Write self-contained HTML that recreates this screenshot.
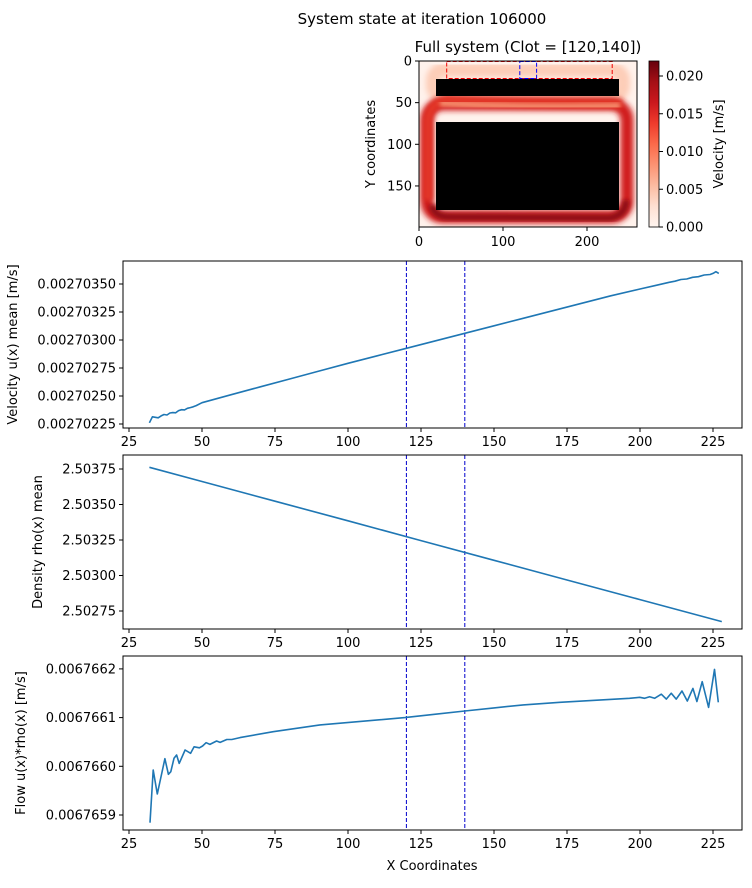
<!DOCTYPE html>
<html><head><meta charset="utf-8">
<style>
body{margin:0;background:#fff;width:752px;height:883px;overflow:hidden;font-family:"Liberation Sans","DejaVu Sans",sans-serif;}
svg text{font-family:"DejaVu Sans","Liberation Sans",sans-serif;fill:#000;}
</style></head>
<body>
<svg id="fig" width="752" height="883" viewBox="0 0 752 883" xmlns="http://www.w3.org/2000/svg">
<defs>
<filter id="blur" x="-20%" y="-20%" width="140%" height="140%"><feGaussianBlur stdDeviation="3"/></filter>
<filter id="blur2" x="-20%" y="-20%" width="140%" height="140%"><feGaussianBlur stdDeviation="2"/></filter>
<linearGradient id="reds" x1="0" y1="1" x2="0" y2="0">
<stop offset="0" stop-color="#fff5f0"/><stop offset="0.125" stop-color="#fee0d2"/><stop offset="0.25" stop-color="#fcbba1"/><stop offset="0.375" stop-color="#fc9272"/><stop offset="0.5" stop-color="#fb6a4a"/><stop offset="0.625" stop-color="#ef3b2c"/><stop offset="0.75" stop-color="#cb181d"/><stop offset="0.875" stop-color="#a50f15"/><stop offset="1" stop-color="#67000d"/>
</linearGradient>
<clipPath id="hmclip"><rect x="419" y="61" width="218" height="166"/></clipPath>
</defs>
<text x="422" y="24" font-size="15" text-anchor="middle">System state at iteration 106000</text>
<g id="heat">
<text x="528" y="52" font-size="15" text-anchor="middle">Full system (Clot = [120,140])</text>
<g clip-path="url(#hmclip)">
<rect x="419" y="61" width="218" height="166" fill="#fff2ec"/>
<rect x="433" y="70" width="190" height="26" rx="10" fill="none" stroke="#fdcdb8" stroke-width="14" filter="url(#blur)"/>
<rect x="427" y="104" width="200" height="113" rx="16" fill="none" stroke="#d01d1a" stroke-width="13" filter="url(#blur)"/>
<path d="M428 200 L428 120 Q430 102 448 100 Q520 104 622 104" fill="none" stroke="#e23425" stroke-width="9" filter="url(#blur2)"/>
<path d="M432 205 Q434 217 450 217 L610 218 Q626 215 626 200" fill="none" stroke="#8f0a12" stroke-width="7" filter="url(#blur2)"/>
<path d="M440 103 Q520 108 620 106" fill="none" stroke="#f58a6a" stroke-width="7" filter="url(#blur2)"/>
<rect x="436" y="79" width="183" height="17" fill="#000"/>
<rect x="436" y="122" width="183" height="88" fill="#000"/>
<rect x="446.7" y="61.5" width="165.5" height="17" fill="none" stroke="#e00" stroke-width="1" stroke-dasharray="4,2"/>
<rect x="519.8" y="61.5" width="16.8" height="17" fill="none" stroke="#00f" stroke-width="1" stroke-dasharray="4,2"/>
</g>
<rect x="419" y="61" width="218" height="166" fill="none" stroke="#000" stroke-width="1"/>
<g id="hmticks"></g>
<text transform="translate(375,144) rotate(-90)" font-size="13" text-anchor="middle">Y coordinates</text>
<rect x="649" y="61" width="10" height="166" fill="url(#reds)" stroke="#000" stroke-width="0.8"/>
<g id="cbticks"></g>
<text transform="translate(723,144) rotate(-90)" font-size="13" text-anchor="middle">Velocity [m/s]</text>
</g>
<g id="plots"></g>
<text x="432" y="870" font-size="13" text-anchor="middle">X Coordinates</text>
</svg>
<script>
// ---- data ----
const xTicks = [25, 50, 75, 100, 125, 150, 175, 200, 225];
const clotBounds = [120, 140];
const velX = [32,33,34,35,36,37,38,39,40,41,42,43,44,45,46,47,48,50,55,60,70,80,90,100,110,120,130,140,150,160,170,180,190,200,205,210,212,214,216,218,220,222,224,225,226,227];
const velY = [0.002702261,0.002702314,0.002702310,0.002702305,0.002702322,0.002702335,0.002702330,0.002702348,0.002702352,0.002702350,0.002702370,0.002702378,0.002702376,0.002702390,0.002702396,0.002702404,0.002702414,0.002702440,0.002702476,0.002702512,0.002702582,0.002702652,0.002702722,0.002702792,0.002702859,0.002702926,0.002702993,0.002703060,0.002703127,0.002703194,0.002703261,0.002703328,0.002703395,0.002703455,0.002703485,0.002703515,0.002703525,0.002703540,0.002703545,0.002703560,0.002703565,0.002703580,0.002703585,0.002703595,0.002703610,0.002703595];
const velTicks = ["0.00270225","0.00270250","0.00270275","0.00270300","0.00270325","0.00270350"];
const denX = [32,50,75,100,125,150,175,200,228];
const denY = [2.503762,2.503662,2.503523,2.503385,2.503246,2.503107,2.502968,2.502830,2.502675];
const denTicks = ["2.50275","2.50300","2.50325","2.50350","2.50375"];
const flowX = [32.2,33.3,34.7,37.3,38.5,39.3,40.4,41.3,42.2,44.2,46.1,47.3,49.1,50.2,51.4,52.7,55,56.2,58.5,60.2,63,74.4,90.4,119.5,130,140,150,160,172.6,196.4,199.9,201.6,203.3,205,207.3,209,210.7,212.4,214.4,216.2,218.1,219.5,221.3,223.5,225.5,226.8];
const flowY = [0.0067658842,0.0067659924,0.0067659431,0.0067660156,0.0067659836,0.0067659889,0.0067660164,0.0067660232,0.0067660060,0.0067660335,0.0067660267,0.0067660400,0.0067660380,0.0067660417,0.0067660485,0.0067660450,0.0067660520,0.0067660490,0.0067660550,0.0067660550,0.0067660590,0.0067660710,0.0067660850,0.0067661000,0.0067661070,0.0067661136,0.0067661200,0.0067661260,0.0067661314,0.0067661396,0.0067661417,0.0067661396,0.0067661430,0.0067661396,0.0067661480,0.0067661380,0.0067661500,0.0067661380,0.0067661546,0.0067661340,0.0067661600,0.0067661330,0.0067661737,0.0067661210,0.0067661990,0.0067661314];
const flowTicks = ["0.0067659","0.0067660","0.0067661","0.0067662"];
const hmXTicks = [0, 100, 200];
const hmYTicks = [0, 50, 100, 150];
const cbTicks = ["0.000","0.005","0.010","0.015","0.020"];

const NS = "http://www.w3.org/2000/svg";
function mk(tag, attrs, parent){const e=document.createElementNS(NS,tag);for(const k in attrs)e.setAttribute(k,attrs[k]);parent.appendChild(e);return e;}
const L=123,R=742;
const xs = v => 129 + (v-25)*2.92;

const panels = [
 {name:"velocity", top:261, bot:428, X:velX, Y:velY, ticks:velTicks, y0:0.00270225, dv:0.00000025, py0:424, ppu:28, label:"Velocity u(x) mean [m/s]", lx:17},
 {name:"density", top:455, bot:629, X:denX, Y:denY, ticks:denTicks, y0:2.50275, dv:0.00025, py0:611, ppu:35.5, label:"Density rho(x) mean", lx:42},
 {name:"flow", top:656, bot:830, X:flowX, Y:flowY, ticks:flowTicks, y0:0.0067659, dv:0.0000001, py0:815, ppu:48.7, label:"Flow u(x)*rho(x) [m/s]", lx:25}
];
const root=document.getElementById('plots');
panels.forEach(p=>{
  const g=mk('g',{},root);
  
  
  const ys = v => p.py0 - (v-p.y0)/p.dv*p.ppu;
  clotBounds.forEach(c=>{
    const ln=mk('line',{x1:xs(c),x2:xs(c),y1:p.top,y2:p.bot,stroke:'#0000cc','stroke-width':1,'stroke-dasharray':'4,2'},g);
    
    
  });
  const pts=p.X.map((x,i)=>xs(x).toFixed(1)+','+ys(p.Y[i]).toFixed(1)).join(' ');
  const pl=mk('polyline',{points:pts,fill:'none',stroke:'#1f77b4','stroke-width':1.6,'stroke-linejoin':'round'},g);
  
  
  const fr=mk('rect',{x:L,y:p.top,width:R-L,height:p.bot-p.top,fill:'none',stroke:'#000','stroke-width':1},g);
  
  
  xTicks.forEach(t=>{
    const x=xs(t);
    mk('line',{x1:x,x2:x,y1:p.bot,y2:p.bot+4,stroke:'#000'},g);
    const tx=mk('text',{x:x,y:p.bot+18,'font-size':13,'text-anchor':'middle'},g);
    tx.textContent=t;
    
    
  });
  p.ticks.forEach(t=>{
    const y=ys(parseFloat(t));
    mk('line',{x1:L-4,x2:L,y1:y,y2:y,stroke:'#000'},g);
    const tx=mk('text',{x:L-7,y:y+4.5,'font-size':13,'text-anchor':'end'},g);
    tx.textContent=t;
    
    
  });
  const yl=mk('text',{transform:`translate(${p.lx},${(p.top+p.bot)/2}) rotate(-90)`,'font-size':13,'text-anchor':'middle'},g);
  yl.textContent=p.label;
  
  
});
const hg=document.getElementById('hmticks');
hmXTicks.forEach(t=>{
  const x=419+t*0.84;
  mk('line',{x1:x,x2:x,y1:227,y2:231,stroke:'#000'},hg);
  const tx=mk('text',{x:x,y:246,'font-size':13,'text-anchor':'middle'},hg);
  tx.textContent=t;
  
  
});
hmYTicks.forEach(t=>{
  const y=61+t*0.833;
  mk('line',{x1:415,x2:419,y1:y,y2:y,stroke:'#000'},hg);
  const tx=mk('text',{x:412,y:y+4.5,'font-size':13,'text-anchor':'end'},hg);
  tx.textContent=t;
  
  
});
const cg=document.getElementById('cbticks');
cbTicks.forEach(t=>{
  const y=227-parseFloat(t)/0.001*7.55;
  mk('line',{x1:659,x2:663,y1:y,y2:y,stroke:'#000'},cg);
  const tx=mk('text',{x:666,y:y+4.5,'font-size':13},cg);
  tx.textContent=t;
  
  
});
</script>
</body></html>
